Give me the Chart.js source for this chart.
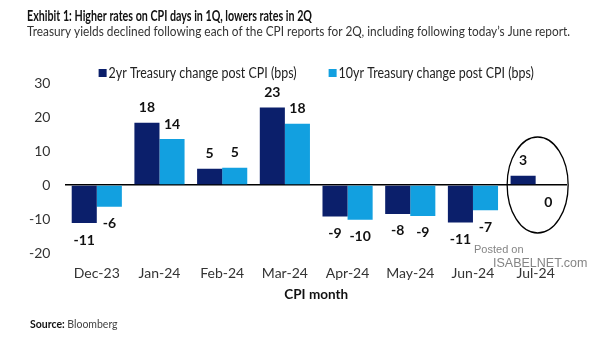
<!DOCTYPE html>
<html>
<head>
<meta charset="utf-8">
<script src="https://cdn.jsdelivr.net/npm/chart.js@4.4.1/dist/chart.umd.min.js"></script>
<style>
  html, body { margin: 0; padding: 0; background: #fff; }
  #wrap { position: relative; width: 605px; height: 341px; }
</style>
</head>
<body>
<div id="wrap"><canvas id="c" width="605" height="341"></canvas></div>
<script>
const categories = ['Dec-23', 'Jan-24', 'Feb-24', 'Mar-24', 'Apr-24', 'May-24', 'Jun-24', 'Jul-24'];
const twoYr = [-11.2, 18.3, 4.8, 22.8, -9.3, -8.5, -11.0, 2.7];
const tenYr = [-6.4, 13.5, 5.1, 18.0, -10.2, -9.1, -7.4, -0.2];
const twoYrLabels = ['-11', '18', '5', '23', '-9', '-8', '-11', '3'];
const tenYrLabels = ['-6', '14', '5', '18', '-10', '-9', '-7', '0'];
const seriesNames = ['2yr Treasury change post CPI (bps)', '10yr Treasury change post CPI (bps)'];
const yTicks = [-20, -10, 0, 10, 20, 30];

const FONT = 'Lato, "Open Sans", sans-serif';
const NAVY = '#0b1f6b';
const LIGHT = '#12a0e0';

// draw text squeezed horizontally (reference uses a condensed face)
function drawScaled(ctx, text, x, y, s) {
  ctx.save();
  ctx.translate(x, y);
  ctx.scale(s, 1);
  ctx.fillText(text, 0, 0);
  ctx.restore();
}
function fitText(ctx, text, x, y, width) {
  const w = ctx.measureText(text).width;
  const s = Math.min(1, width / w);
  drawScaled(ctx, text, x, y, s);
  return w * s;
}

const textPlugin = {
  id: 'texts',
  afterDraw(chart) {
    const ctx = chart.ctx;
    ctx.save();
    ctx.textBaseline = 'middle';
    ctx.textAlign = 'left';
    ctx.fillStyle = '#111';
    ctx.font = 'bold 14.5px ' + FONT;
    fitText(ctx, 'Exhibit 1: Higher rates on CPI days in 1Q, lowers rates in 2Q', 27, 16, 285);
    ctx.fillStyle = '#333';
    ctx.font = '13.5px ' + FONT;
    fitText(ctx, 'Treasury yields declined following each of the CPI reports for 2Q, including following today\u2019s June report.', 27, 32, 543);
    ctx.fillStyle = '#111';
    ctx.font = 'bold 10.5px ' + FONT;
    ctx.fillText('Source:', 30, 325);
    const w = ctx.measureText('Source: ').width;
    ctx.fillStyle = '#444';
    ctx.font = '10.5px ' + FONT;
    ctx.fillText('Bloomberg', 30 + w, 325);
    // watermark
    ctx.fillStyle = 'rgba(110,110,110,0.85)';
    ctx.font = '11px "Liberation Sans", sans-serif';
    ctx.fillText('Posted on', 474, 250);
    ctx.font = '12.5px "Liberation Sans", sans-serif';
    ctx.fillText('ISABELNET.com', 493, 264);
    ctx.restore();
  }
};

const legendPlugin = {
  id: 'customLegend',
  afterDraw(chart) {
    const ctx = chart.ctx;
    const area = chart.chartArea;
    ctx.save();
    ctx.font = '14.5px ' + FONT;
    ctx.textBaseline = 'middle';
    ctx.textAlign = 'left';
    const box = 8, gapBox = 2, gapItem = 32;
    const s = 188 / ctx.measureText(chart.data.datasets[0].label).width;
    const items = chart.data.datasets.map(ds => ({ text: ds.label, color: ds.backgroundColor, w: ctx.measureText(ds.label).width * s }));
    const total = items.reduce((a, it) => a + box + gapBox + it.w, 0) + gapItem * (items.length - 1);
    let x = (area.left + area.right) / 2 - total / 2;
    const y = area.top - 10;
    items.forEach(it => {
      ctx.fillStyle = it.color;
      ctx.fillRect(x, y - 4, box, box);
      ctx.fillStyle = '#222';
      drawScaled(ctx, it.text, x + box + gapBox, y, s);
      x += box + gapBox + it.w + gapItem;
    });
    ctx.restore();
  }
};

const labelPlugin = {
  id: 'barLabels',
  afterDatasetsDraw(chart) {
    const ctx = chart.ctx;
    ctx.save();
    ctx.font = 'bold 14px ' + FONT;
    ctx.fillStyle = '#111';
    ctx.textAlign = 'center';
    ctx.textBaseline = 'middle';
    const labelSets = [twoYrLabels, tenYrLabels];
    chart.data.datasets.forEach((ds, di) => {
      const meta = chart.getDatasetMeta(di);
      meta.data.forEach((bar, i) => {
        const v = ds.data[i];
        const y = v >= 0 ? bar.y - 15 : bar.y + 17;
        ctx.fillText(labelSets[di][i], bar.x, y);
      });
    });
    // ellipse around last category
    const xs = chart.scales.x, ys = chart.scales.y;
    const cx = xs.getPixelForValue(categories.length - 1);
    const cy = ys.getPixelForValue(0);
    ctx.beginPath();
    ctx.ellipse(cx + 2, cy, 30.5, 48, 0, 0, Math.PI * 2);
    ctx.strokeStyle = '#000';
    ctx.lineWidth = 1.3;
    ctx.stroke();
    ctx.restore();
  }
};

new Chart(document.getElementById('c'), {
  type: 'bar',
  data: {
    labels: categories,
    datasets: [
      { label: seriesNames[0], data: twoYr, backgroundColor: NAVY, categoryPercentage: 0.8, barPercentage: 1.0 },
      { label: seriesNames[1], data: tenYr, backgroundColor: LIGHT, categoryPercentage: 0.8, barPercentage: 1.0 }
    ]
  },
  options: {
    responsive: false,
    animation: false,
    devicePixelRatio: 1,
    layout: { padding: { top: 83, left: 14, right: 38, bottom: 38 } },
    plugins: {
      legend: { display: false },
      tooltip: { enabled: false }
    },
    scales: {
      x: {
        grid: { display: false, drawTicks: false },
        border: { display: false },
        ticks: { color: '#333', font: { family: FONT, size: 14 }, padding: 12 },
        title: { display: true, text: 'CPI month', color: '#111', font: { family: FONT, size: 13.5, weight: 'bold' }, padding: { top: -7, bottom: 0 } }
      },
      y: {
        min: -20, max: 30,
        afterBuildTicks(axis) { axis.ticks = yTicks.map(v => ({ value: v })); },
        grid: {
          drawTicks: false,
          color: ctx => (ctx.tick && ctx.tick.value === 0) ? '#000' : 'rgba(0,0,0,0)',
          lineWidth: 1.5
        },
        border: { display: false },
        ticks: { color: '#333', font: { family: FONT, size: 14 }, padding: 15 }
      }
    }
  },
  plugins: [textPlugin, legendPlugin, labelPlugin]
});
</script>
</body>
</html>
